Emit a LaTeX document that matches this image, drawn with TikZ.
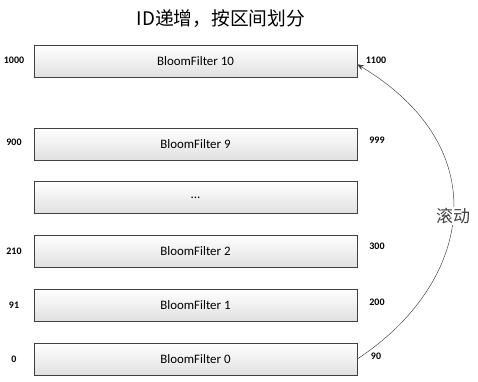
\documentclass[tikz,border=0pt]{standalone}
\usepackage{fontspec}
\setmainfont{Carlito}
\newfontfamily\cjkfont{Noto Sans CJK SC}
\usetikzlibrary{arrows.meta,positioning,shadows}

\begin{document}
\begin{tikzpicture}[
  x=0.03cm, y=-0.03cm,
  bf/.style={draw=black!75, rectangle, minimum width=9.69cm, minimum height=0.96cm,
    top color=white, bottom color=black!12, font=\fontsize{11}{13}\selectfont,
    drop shadow={shadow xshift=0.8pt, shadow yshift=-0.8pt, opacity=0.35, fill=black!60}},
  num/.style={font=\fontsize{8.5}{10}\selectfont\bfseries, inner sep=0pt},
  >={Stealth[length=2mm,width=1.6mm]}
]
  \useasboundingbox (0,0) rectangle (478,381);

  \node[font=\cjkfont\fontsize{16}{19}\selectfont] (title) at (221,19) {ID递增，按区间划分};

  \node[bf] (bf10) at (195.5,61) {BloomFilter 10};
  \node[bf] (bf9) at (195.5,144) {BloomFilter 9};
  \node[bf] (dots) at (195.5,197.5) {...};
  \node[bf] (bf2) at (195.5,251) {BloomFilter 2};
  \node[bf] (bf1) at (195.5,305) {BloomFilter 1};
  \node[bf] (bf0) at (195.5,359) {BloomFilter 0};

  % left: start ids
  \node[num] (lo10) at (14,60) {1000};
  \node[num] (lo9) at (14,142) {900};
  \node[num] (lo2) at (14,251) {210};
  \node[num] (lo1) at (14,305) {91};
  \node[num] (lo0) at (14,359) {0};

  % right: end ids
  \node[num] (hi10) at (376,60) {1100};
  \node[num] (hi9) at (377,140) {999};
  \node[num] (hi2) at (377,246) {300};
  \node[num] (hi1) at (377,302) {200};
  \node[num] (hi0) at (376,356) {90};

  \coordinate (from) at (bf0.east);
  \coordinate (to) at ([yshift=-0.1cm]bf10.east);
  \draw[->, black!75] (from) .. controls (470,285) and (500,150) .. node[pos=0.5, fill=white, inner sep=1pt,
    font=\cjkfont\fontsize{14.5}{17}\selectfont] (roll) {滚动} (to);
\end{tikzpicture}
\end{document}
